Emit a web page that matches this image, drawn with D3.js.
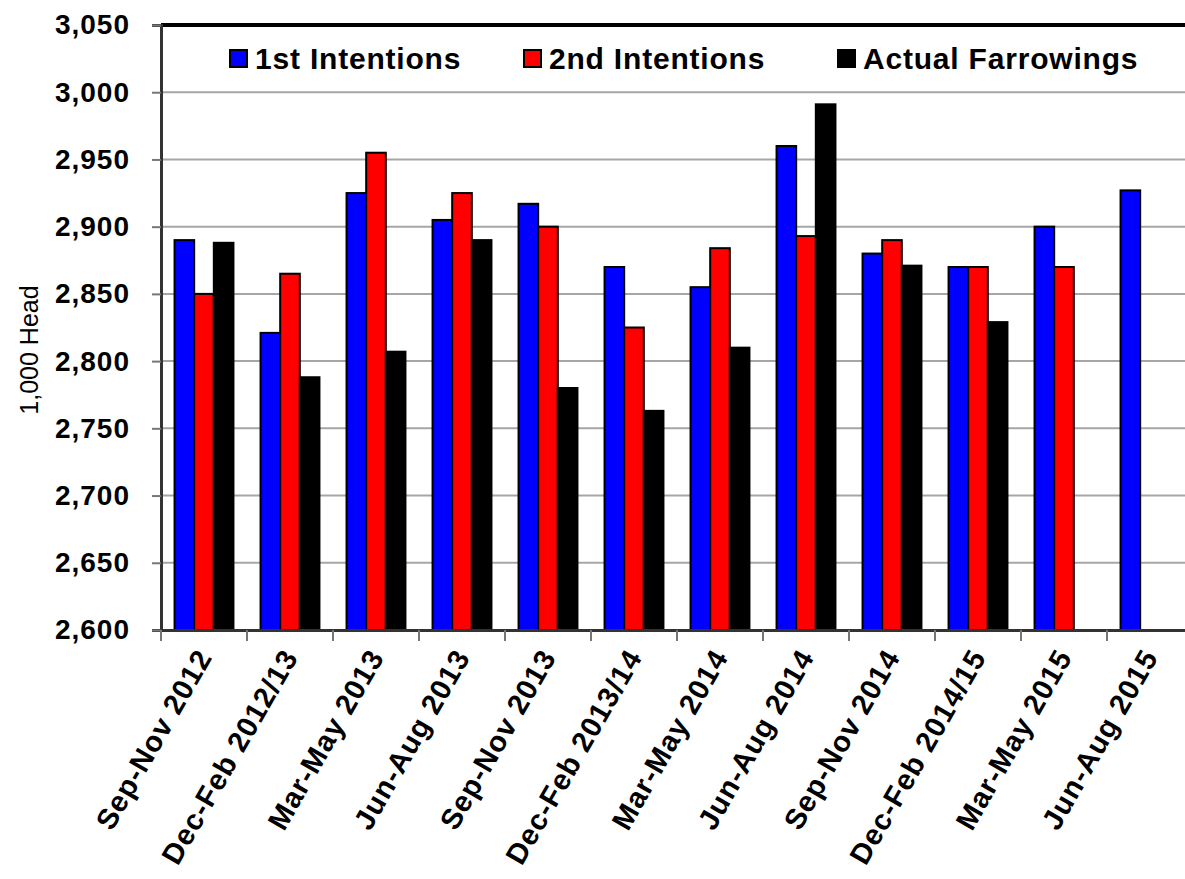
<!DOCTYPE html>
<html>
<head>
<meta charset="utf-8">
<script src="https://cdn.jsdelivr.net/npm/d3@7"></script>
<style>
  html, body { margin: 0; padding: 0; background: #fff; }
  svg { display: block; font-family: "Liberation Sans", Arial, sans-serif; }
</style>
</head>
<body>
<svg id="chart" width="1185" height="879"></svg>
<script>
const categories = ["Sep-Nov 2012", "Dec-Feb 2012/13", "Mar-May 2013", "Jun-Aug 2013", "Sep-Nov 2013", "Dec-Feb 2013/14", "Mar-May 2014", "Jun-Aug 2014", "Sep-Nov 2014", "Dec-Feb 2014/15", "Mar-May 2015", "Jun-Aug 2015"];
const seriesNames = ["1st Intentions", "2nd Intentions", "Actual Farrowings"];
const firstIntentions = [2890, 2821, 2925, 2905, 2917, 2870, 2855, 2960, 2880, 2870, 2900, 2927];
const secondIntentions = [2850, 2865, 2955, 2925, 2900, 2825, 2884, 2893, 2890, 2870, 2870, null];
const actualFarrowings = [2888, 2788, 2807, 2890, 2780, 2763, 2810, 2991, 2871, 2829, null, null];
const seriesColors = ["#0000ff", "#ff0000", "#000000"];
const yTicks = [2600, 2650, 2700, 2750, 2800, 2850, 2900, 2950, 3000, 3050];
const yTitle = "1,000 Head";

const seriesValues = [firstIntentions, secondIntentions, actualFarrowings];

(function () {
const svg = d3.select("#chart");
const pLeft = 161, pRight = 1193, pTop = 25, pBottom = 630;

const x0 = d3.scaleBand().domain(categories).range([pLeft, pRight]).paddingInner(0).paddingOuter(0);
const x1 = d3.scaleBand().domain(seriesNames).range([0, x0.bandwidth()]).paddingInner(0).paddingOuter(0.69);
const y = d3.scaleLinear().domain([2600, 3050]).range([pBottom, pTop]);

// gridlines
svg.append("g").selectAll("line").data(yTicks.filter(t => t > 2600 && t < 3050)).join("line")
  .attr("x1", pLeft).attr("x2", 1185)
  .attr("y1", d => y(d)).attr("y2", d => y(d))
  .attr("stroke", "#a6a6a6").attr("stroke-width", 2);

// top border
svg.append("line").attr("x1", pLeft).attr("x2", 1185).attr("y1", y(3050)).attr("y2", y(3050))
  .attr("stroke", "#000").attr("stroke-width", 4);

// bars
const groups = svg.append("g").selectAll("g").data(categories).join("g")
  .attr("transform", d => `translate(${x0(d)},0)`);
groups.selectAll("rect")
  .data((c, i) => seriesNames.map((s, j) => ({ s, v: seriesValues[j][i], color: seriesColors[j] })).filter(d => d.v != null))
  .join("rect")
  .attr("x", d => x1(d.s))
  .attr("width", x1.bandwidth())
  .attr("y", d => y(d.v))
  .attr("height", d => y(2600) - y(d.v))
  .attr("fill", d => d.color)
  .attr("stroke", "#000").attr("stroke-width", 2);

// y axis
const yAxis = d3.axisLeft(y).tickValues(yTicks).tickFormat(d3.format(",")).tickSize(9).tickPadding(22);
const gy = svg.append("g").attr("transform", `translate(${pLeft},0)`).call(yAxis);
gy.select(".domain").attr("stroke", "#333").attr("stroke-width", 3);
gy.selectAll(".tick line").attr("stroke", "#777").attr("stroke-width", 2);
gy.selectAll(".tick text").attr("font-size", 28).attr("font-weight", "bold").attr("fill", "#000")
  .attr("font-family", "Liberation Sans, Arial, sans-serif").style("letter-spacing", "1px");

// x axis
const xAxis = d3.axisBottom(x0).tickSize(0).tickFormat("");
const gx = svg.append("g").attr("transform", `translate(0,${pBottom})`).call(xAxis);
gx.select(".domain").attr("stroke", "#333").attr("stroke-width", 3);
// boundary ticks
svg.append("g").selectAll("line").data(categories).join("line")
  .attr("x1", d => x0(d)).attr("x2", d => x0(d))
  .attr("y1", pBottom).attr("y2", pBottom + 11)
  .attr("stroke", "#777").attr("stroke-width", 2);

// x labels
svg.append("g").selectAll("text").data(categories).join("text")
  .attr("transform", d => `translate(${x0(d) + x0.bandwidth() / 2 + 9},${pBottom + 27}) rotate(-60)`)
  .attr("text-anchor", "end")
  .attr("font-size", 29).attr("font-weight", "bold").attr("fill", "#000")
  .style("letter-spacing", "1px")
  .text(d => d);

// y title
svg.append("text")
  .attr("transform", `translate(38,350) rotate(-90)`)
  .attr("text-anchor", "middle")
  .attr("font-size", 25).attr("fill", "#000")
  .text(yTitle);

// legend
const legendX = [230, 524, 838];
const lg = svg.append("g").selectAll("g").data(seriesNames).join("g")
  .attr("transform", (d, i) => `translate(${legendX[i]},50)`);
lg.append("rect").attr("x", 0).attr("y", 0).attr("width", 17).attr("height", 17)
  .attr("fill", (d, i) => seriesColors[i]).attr("stroke", "#000").attr("stroke-width", 2);
lg.append("text").attr("x", 25).attr("y", 19)
  .attr("font-size", 30).attr("font-weight", "bold").attr("fill", "#000")
  .style("letter-spacing", "0.8px")
  .text(d => d);
})();
</script>
</body>
</html>
